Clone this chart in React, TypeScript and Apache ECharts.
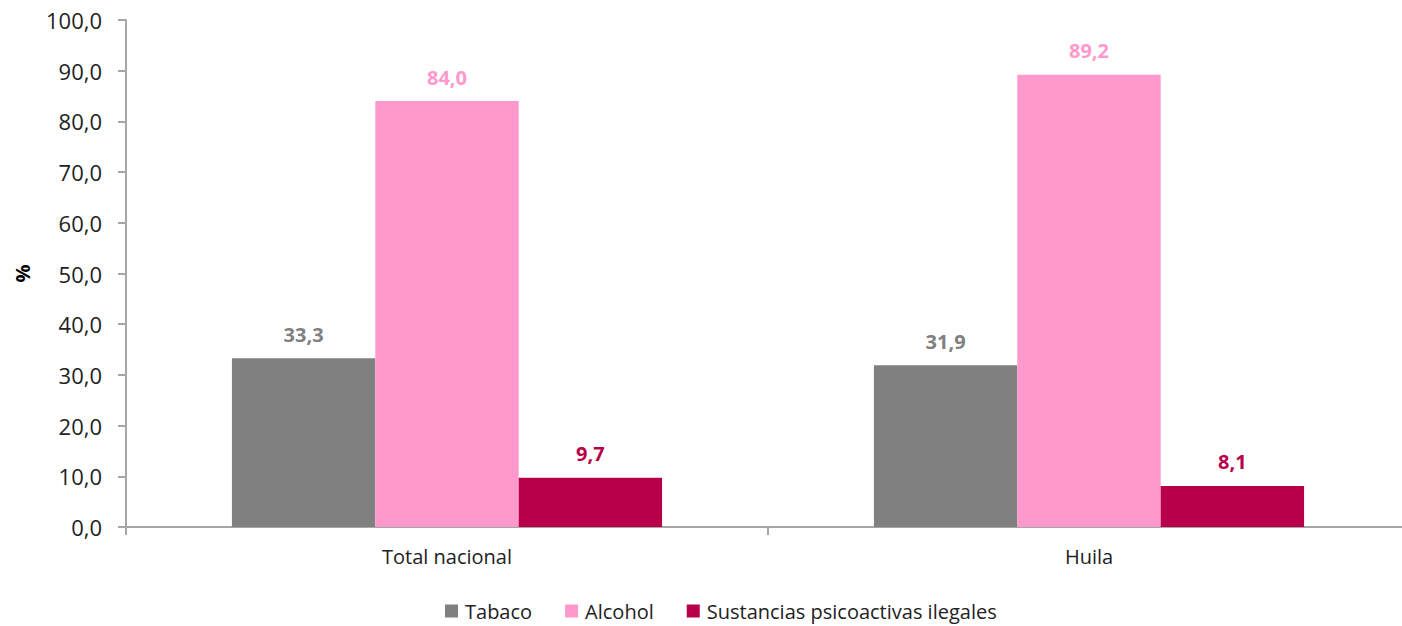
import React, { useEffect, useRef } from "react";
import * as echarts from "echarts";

const categories = ["Total nacional", "Huila"];
const tabaco = [33.3, 31.9];
const alcohol = [84.0, 89.2];
const sustancias = [9.7, 8.1];
const seriesNames = ["Tabaco", "Alcohol", "Sustancias psicoactivas ilegales"];
const colors = ["#808080", "#FF99CC", "#B8004A"];

const FONT = "'Open Sans', 'Noto Sans', sans-serif";
const fmt = (v: number) => v.toFixed(1).replace(".", ",");

export default function App() {
  const ref = useRef<HTMLDivElement>(null);
  useEffect(() => {
    if (!ref.current) return;
    const chart = echarts.init(ref.current, undefined, { renderer: "svg" });
    const data = [tabaco, alcohol, sustancias];
    chart.setOption({
      animation: false,
      textStyle: { fontFamily: FONT },
      grid: { left: 126, top: 20, right: 10, bottom: 99, containLabel: false },
      legend: {
        bottom: 0,
        left: 440,
        itemWidth: 13,
        itemHeight: 13,
        itemGap: 33,
        icon: "rect",
        textStyle: { fontFamily: FONT, fontSize: 20, color: "#222", padding: [0, 0, 0, 2] },
        data: seriesNames,
      },
      xAxis: {
        type: "category",
        data: categories,
        axisLine: { lineStyle: { color: "#A6A6A6", width: 2 } },
        axisTick: { show: true, length: 8, lineStyle: { color: "#A6A6A6", width: 2 } },
        axisLabel: { fontFamily: FONT, fontSize: 20, color: "#222", margin: 19 },
      },
      yAxis: {
        type: "value",
        min: 0,
        max: 100,
        interval: 10,
        name: "%",
        nameLocation: "middle",
        nameGap: 94,
        nameTextStyle: { fontFamily: FONT, fontSize: 20, fontWeight: "bold", color: "#000" },
        axisLine: { show: true, lineStyle: { color: "#A6A6A6", width: 2 } },
        axisTick: { show: true, length: 8, lineStyle: { color: "#A6A6A6", width: 2 } },
        splitLine: { show: false },
        axisLabel: {
          fontFamily: FONT,
          fontSize: 22,
          color: "#222",
          margin: 24,
          formatter: (v: number) => fmt(v),
        },
      },
      series: seriesNames.map((name, i) => ({
        name,
        type: "bar",
        data: data[i],
        barGap: "0%",
        barCategoryGap: "33%",
        itemStyle: { color: colors[i] },
        label: {
          show: true,
          position: "top",
          distance: 14,
          fontFamily: FONT,
          fontSize: 20,
          fontWeight: "bold",
          color: colors[i],
          formatter: (p: any) => fmt(p.value),
        },
      })),
    });
    return () => chart.dispose();
  }, []);
  return (
    <div
      style={{ position: "fixed", left: 0, top: 0, width: 1402, height: 626, overflow: "hidden", background: "#fff" }}
    >
      <div ref={ref} style={{ width: 1420, height: 626 }} />
    </div>
  );
}
